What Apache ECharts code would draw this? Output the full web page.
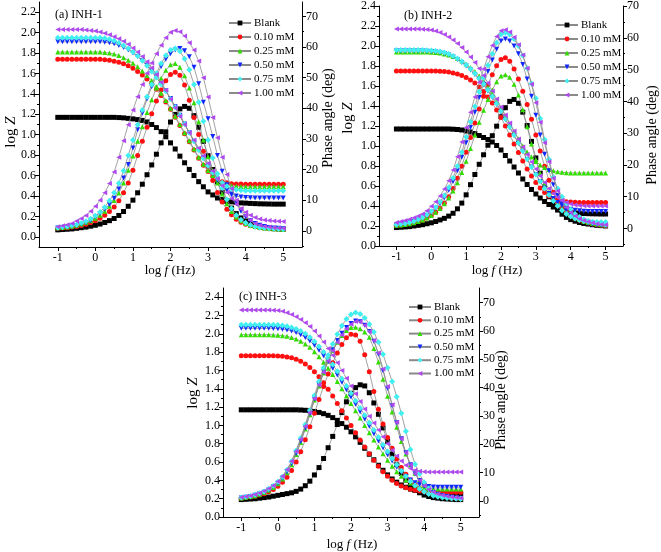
<!DOCTYPE html>
<html><head><meta charset="utf-8">
<script src="https://cdn.jsdelivr.net/npm/echarts@6/dist/echarts.min.js"></script>
<style>html,body{margin:0;padding:0;background:#fff}#c{width:661px;height:552px}</style>
</head><body><div id="c"></div>
<script>
const logF = [-1,-0.875,-0.75,-0.625,-0.5,-0.375,-0.25,-0.125,0,0.125,0.25,0.375,0.5,0.625,0.75,0.875,1,1.125,1.25,1.375,1.5,1.625,1.75,1.875,2,2.125,2.25,2.375,2.5,2.625,2.75,2.875,3,3.125,3.25,3.375,3.5,3.625,3.75,3.875,4,4.125,4.25,4.375,4.5,4.625,4.75,4.875,5];
const seriesNames = ['Blank','0.10 mM','0.25 mM','0.50 mM','0.75 mM','1.00 mM'];
const xTicks = [-1,0,1,2,3,4,5];

// Panel (a) INH-1
const a_Z_blank = [1.17,1.17,1.17,1.17,1.17,1.17,1.17,1.17,1.17,1.17,1.17,1.17,1.17,1.168,1.165,1.16,1.155,1.148,1.14,1.125,1.10,1.07,1.03,0.98,0.92,0.86,0.79,0.725,0.66,0.60,0.54,0.49,0.44,0.41,0.38,0.365,0.35,0.342,0.336,0.332,0.33,0.327,0.325,0.323,0.322,0.321,0.32,0.32,0.32];
const a_P_blank = [0.3,0.4,0.5,0.6,0.8,1.0,1.2,1.5,1.8,2.2,2.7,3.3,4.0,5.0,6.3,8.0,10.0,12.4,15.2,18.3,21.5,25.0,28.7,32.3,35.5,38.0,39.8,40.6,40.0,37.6,33.8,29.2,24.5,20.0,16.0,12.6,9.7,7.4,5.6,4.2,3.2,2.4,1.8,1.4,1.1,0.9,0.7,0.6,0.5];
const a_Z_010 = [1.74,1.74,1.74,1.74,1.74,1.74,1.74,1.74,1.74,1.74,1.735,1.73,1.72,1.71,1.695,1.675,1.65,1.62,1.585,1.545,1.50,1.445,1.385,1.32,1.25,1.17,1.09,1.01,0.93,0.85,0.77,0.70,0.64,0.59,0.56,0.54,0.53,0.52,0.518,0.516,0.515,0.515,0.515,0.515,0.515,0.515,0.515,0.515,0.515];
const a_P_010 = [0.8,0.9,1.0,1.2,1.4,1.7,2.1,2.6,3.3,4.1,5.1,6.3,7.8,9.8,12.4,15.6,19.8,24.6,29.2,33.8,38.2,42.4,46.0,49.0,51.0,51.8,50.8,47.6,42.6,37.0,31.4,26.0,21.0,16.4,12.5,9.4,7.0,5.2,3.8,2.8,2.1,1.6,1.3,1.0,0.8,0.7,0.6,0.5,0.5];
const a_Z_025 = [1.81,1.81,1.81,1.81,1.81,1.81,1.81,1.81,1.81,1.81,1.805,1.80,1.79,1.775,1.755,1.73,1.70,1.665,1.625,1.58,1.53,1.47,1.405,1.335,1.26,1.18,1.10,1.02,0.94,0.86,0.78,0.71,0.65,0.60,0.56,0.53,0.51,0.50,0.495,0.492,0.49,0.49,0.49,0.49,0.49,0.49,0.49,0.49,0.49];
const a_P_025 = [1.0,1.1,1.3,1.5,1.8,2.2,2.7,3.3,4.1,5.1,6.4,8.0,9.9,12.3,15.6,19.8,24.4,29.2,34.0,38.6,42.8,46.6,49.8,52.4,54.2,54.6,53.4,50.6,46.6,41.8,35.6,29.6,24.2,19.6,15.6,12.0,8.8,6.3,4.5,3.3,2.4,1.8,1.4,1.1,0.9,0.8,0.7,0.6,0.5];
const a_Z_050 = [1.91,1.91,1.91,1.91,1.91,1.91,1.91,1.91,1.91,1.91,1.905,1.90,1.89,1.875,1.855,1.83,1.80,1.765,1.725,1.68,1.625,1.565,1.50,1.43,1.355,1.275,1.19,1.105,1.02,0.935,0.85,0.77,0.69,0.62,0.555,0.50,0.455,0.42,0.40,0.39,0.385,0.382,0.38,0.38,0.38,0.38,0.38,0.38,0.38];
const a_P_050 = [0.9,1.0,1.2,1.4,1.7,2.1,2.6,3.3,4.5,5.6,7.0,8.6,10.6,13.6,17.2,21.6,27.0,33.0,38.4,43.0,47.0,50.6,53.6,56.0,57.8,59.0,59.5,58.8,56.8,53.4,48.0,42.0,36.6,30.8,24.6,19.4,15.0,11.8,8.8,6.4,4.6,3.3,2.4,1.8,1.4,1.1,0.9,0.8,0.7];
const a_Z_075 = [1.95,1.95,1.95,1.95,1.95,1.95,1.95,1.95,1.95,1.95,1.945,1.935,1.92,1.90,1.875,1.845,1.81,1.77,1.725,1.675,1.62,1.56,1.495,1.425,1.35,1.27,1.19,1.105,1.02,0.935,0.85,0.77,0.695,0.63,0.575,0.53,0.495,0.47,0.46,0.455,0.452,0.45,0.45,0.45,0.45,0.45,0.45,0.45,0.45];
const a_P_075 = [1.0,1.2,1.4,1.7,2.0,2.5,3.1,3.9,4.9,6.1,7.7,9.8,12.4,15.5,19.6,24.6,29.6,34.6,39.4,43.8,47.8,51.4,54.6,57.2,59.0,59.5,58.6,56.2,52.6,47.8,42.0,35.8,29.6,23.8,18.6,14.0,10.2,7.3,5.1,3.6,2.6,1.9,1.4,1.1,0.9,0.8,0.7,0.6,0.5];
const a_Z_100 = [2.03,2.03,2.03,2.03,2.03,2.03,2.025,2.02,2.015,2.005,1.995,1.98,1.96,1.94,1.915,1.885,1.85,1.81,1.765,1.715,1.655,1.59,1.515,1.435,1.35,1.265,1.18,1.10,1.02,0.945,0.87,0.795,0.72,0.645,0.57,0.50,0.435,0.375,0.32,0.275,0.24,0.21,0.19,0.175,0.165,0.16,0.155,0.152,0.15];
const a_P_100 = [1.3,1.6,2.0,2.4,3.2,4.0,5.0,6.4,8.0,10.0,12.4,15.4,19.2,24.0,29.4,34.6,39.4,43.8,47.8,51.4,54.8,57.8,60.6,63.0,64.8,65.4,65.0,63.6,61.4,59.0,55.4,50.0,43.7,37.0,30.4,24.0,18.4,13.8,10.0,7.2,5.0,3.4,2.4,1.8,1.4,1.2,1.0,0.9,0.8];

// Panel (b) INH-2
const b_Z_blank = [1.17,1.17,1.17,1.17,1.17,1.17,1.17,1.17,1.17,1.17,1.17,1.17,1.17,1.168,1.165,1.16,1.15,1.14,1.125,1.105,1.085,1.065,1.04,1.005,0.96,0.905,0.85,0.79,0.73,0.67,0.615,0.565,0.52,0.48,0.445,0.415,0.39,0.37,0.355,0.345,0.337,0.332,0.328,0.325,0.323,0.322,0.321,0.32,0.32];
const b_P_blank = [0.3,0.4,0.5,0.6,0.8,1.0,1.2,1.5,1.8,2.2,2.7,3.2,3.9,4.8,6.2,8.0,10.6,13.8,17.0,20.2,23.2,26.2,29.2,32.2,35.2,38.0,40.0,40.6,39.4,36.6,32.4,27.4,22.2,17.4,13.2,10.0,7.6,5.8,4.5,3.5,2.8,2.3,1.9,1.6,1.4,1.2,1.0,0.9,0.8];
const b_Z_010 = [1.75,1.75,1.75,1.75,1.75,1.75,1.75,1.75,1.75,1.75,1.748,1.745,1.74,1.73,1.72,1.705,1.685,1.66,1.63,1.59,1.545,1.49,1.43,1.36,1.285,1.20,1.11,1.02,0.935,0.85,0.77,0.70,0.635,0.58,0.535,0.50,0.475,0.46,0.45,0.443,0.44,0.438,0.436,0.435,0.435,0.435,0.435,0.435,0.435];
const b_P_010 = [1.0,1.1,1.3,1.5,1.8,2.2,2.7,3.3,4.1,5.1,6.4,8.0,10.0,12.6,15.8,19.6,24.0,28.6,33.2,37.6,41.6,45.2,48.4,51.2,53.2,53.7,52.6,50.2,47.0,43.2,39.0,34.4,29.4,24.4,19.6,15.2,11.4,8.6,6.6,5.2,4.0,3.2,2.6,2.1,1.7,1.4,1.2,1.0,0.9];
const b_Z_025 = [1.94,1.94,1.94,1.94,1.94,1.94,1.94,1.94,1.938,1.935,1.93,1.92,1.91,1.895,1.875,1.85,1.82,1.785,1.745,1.70,1.645,1.585,1.52,1.45,1.375,1.30,1.22,1.145,1.07,1.00,0.94,0.89,0.845,0.81,0.785,0.765,0.752,0.743,0.737,0.733,0.731,0.73,0.73,0.73,0.73,0.73,0.73,0.73,0.73];
const b_P_025 = [1.0,1.1,1.3,1.5,1.8,2.2,2.7,3.3,4.1,5.1,6.3,7.8,9.6,11.8,14.4,17.6,21.2,25.2,29.4,33.4,37.2,40.6,43.6,46.2,48.0,48.4,47.6,45.4,42.0,37.4,32.0,26.6,21.6,17.4,14.0,11.4,9.4,7.8,6.4,5.2,4.2,3.4,2.8,2.3,1.9,1.6,1.4,1.2,1.1];
const b_Z_050 = [1.95,1.95,1.95,1.95,1.95,1.95,1.95,1.948,1.945,1.94,1.935,1.925,1.91,1.89,1.865,1.835,1.80,1.76,1.715,1.665,1.61,1.55,1.485,1.415,1.34,1.265,1.185,1.105,1.025,0.945,0.865,0.79,0.715,0.645,0.58,0.525,0.475,0.435,0.405,0.383,0.368,0.358,0.352,0.348,0.345,0.345,0.345,0.345,0.345];
const b_P_050 = [1.1,1.3,1.5,1.8,2.2,2.7,3.3,4.1,5.1,6.3,7.8,9.7,12.0,14.8,18.2,22.4,27.0,31.8,36.6,41.2,45.4,49.4,53.0,56.4,59.0,59.6,59.0,57.4,55.0,51.6,47.0,41.6,35.6,29.4,23.4,18.2,13.8,10.4,7.8,5.8,4.4,3.4,2.6,2.1,1.7,1.4,1.2,1.0,0.9];
const b_Z_075 = [1.96,1.96,1.96,1.96,1.96,1.96,1.96,1.958,1.955,1.95,1.944,1.935,1.92,1.90,1.875,1.845,1.81,1.77,1.725,1.675,1.62,1.56,1.495,1.425,1.35,1.27,1.19,1.11,1.03,0.95,0.87,0.79,0.715,0.645,0.575,0.51,0.45,0.40,0.355,0.32,0.295,0.275,0.26,0.25,0.245,0.242,0.24,0.24,0.24];
const b_P_075 = [1.2,1.4,1.6,1.9,2.3,2.8,3.5,4.3,5.4,6.7,8.4,10.4,12.9,15.9,19.6,24.0,28.8,33.6,38.4,43.0,47.4,51.4,55.0,58.4,61.0,61.6,61.0,59.6,57.4,54.4,50.4,45.6,41.0,34.6,28.0,21.8,16.2,12.6,10.0,7.8,6.0,4.6,3.6,2.9,2.4,2.0,1.7,1.5,1.3];
const b_Z_100 = [2.17,2.17,2.17,2.17,2.17,2.17,2.168,2.165,2.16,2.15,2.135,2.115,2.09,2.06,2.025,1.985,1.94,1.89,1.835,1.775,1.705,1.63,1.55,1.47,1.39,1.31,1.23,1.15,1.07,0.99,0.915,0.84,0.77,0.70,0.635,0.575,0.525,0.485,0.455,0.435,0.42,0.41,0.405,0.402,0.40,0.40,0.40,0.40,0.40];
const b_P_100 = [1.9,2.2,2.5,2.9,3.4,3.9,4.6,5.6,7.0,8.4,10.2,12.4,15.0,18.4,22.6,27.2,31.8,36.6,41.4,46.0,50.2,54.0,57.6,60.4,62.2,62.5,61.8,60.2,57.8,54.6,50.4,45.4,39.6,33.4,27.0,21.0,15.8,11.8,8.8,6.6,5.0,3.9,3.1,2.5,2.1,1.8,1.5,1.3,1.2];

// Panel (c) INH-3
const c_Z_blank = [1.17,1.17,1.17,1.17,1.17,1.17,1.17,1.17,1.17,1.17,1.17,1.17,1.17,1.168,1.165,1.16,1.152,1.142,1.128,1.11,1.085,1.055,1.02,0.98,0.93,0.875,0.815,0.75,0.685,0.625,0.565,0.51,0.46,0.415,0.38,0.35,0.325,0.305,0.29,0.278,0.27,0.264,0.26,0.256,0.253,0.251,0.25,0.25,0.25];
const c_P_blank = [0.5,0.6,0.7,0.8,1.0,1.2,1.4,1.7,2.0,2.3,2.6,2.9,3.4,4.2,5.4,7.0,9.2,11.8,15.0,18.8,22.8,27.0,31.2,35.0,38.0,40.0,41.0,40.6,38.2,34.6,30.6,25.8,21.0,16.6,12.8,9.8,7.4,5.5,4.0,2.9,2.1,1.6,1.2,1.0,0.8,0.7,0.6,0.5,0.5];
const c_Z_010 = [1.76,1.76,1.76,1.76,1.76,1.76,1.76,1.76,1.758,1.754,1.748,1.738,1.722,1.70,1.67,1.632,1.585,1.53,1.465,1.395,1.32,1.24,1.16,1.08,1.00,0.92,0.84,0.765,0.69,0.62,0.555,0.495,0.445,0.40,0.365,0.338,0.318,0.303,0.292,0.284,0.279,0.276,0.274,0.272,0.271,0.27,0.27,0.27,0.27];
const c_P_010 = [1.0,1.2,1.4,1.7,2.1,2.6,3.3,4.1,5.2,6.6,8.4,10.8,13.8,17.4,21.6,26.2,31.0,35.8,40.4,44.8,48.8,52.2,55.2,57.6,58.8,58.6,56.4,51.6,45.6,38.6,32.4,27.2,22.4,18.6,14.8,11.8,9.4,7.4,5.8,4.5,3.5,2.8,2.2,1.8,1.5,1.3,1.1,1.0,0.9];
const c_Z_025 = [1.99,1.99,1.99,1.99,1.99,1.99,1.99,1.988,1.985,1.98,1.972,1.96,1.943,1.92,1.89,1.852,1.805,1.75,1.69,1.625,1.555,1.48,1.40,1.32,1.24,1.16,1.08,1.00,0.92,0.84,0.765,0.69,0.62,0.555,0.495,0.445,0.405,0.372,0.348,0.33,0.318,0.312,0.308,0.306,0.305,0.305,0.305,0.305,0.305];
const c_P_025 = [1.1,1.3,1.6,1.9,2.4,3.0,3.8,4.8,6.1,7.8,10.0,12.8,16.4,20.6,25.4,30.4,35.6,40.6,45.2,49.4,53.0,56.0,58.4,60.2,61.2,61.3,60.8,59.6,57.8,53.8,49.0,43.0,37.0,31.4,26.0,21.0,16.6,12.8,9.8,7.5,5.6,4.2,3.2,2.5,2.0,1.6,1.4,1.2,1.0];
const c_Z_050 = [2.06,2.06,2.06,2.06,2.06,2.06,2.06,2.058,2.055,2.05,2.042,2.03,2.013,1.99,1.96,1.922,1.875,1.82,1.76,1.695,1.625,1.55,1.47,1.39,1.31,1.23,1.15,1.07,0.99,0.91,0.83,0.755,0.68,0.61,0.545,0.49,0.443,0.405,0.375,0.354,0.34,0.332,0.328,0.326,0.325,0.325,0.325,0.325,0.325];
const c_P_050 = [1.1,1.3,1.6,2.0,2.5,3.1,3.9,5.0,6.3,8.0,10.3,13.2,16.8,21.0,25.8,30.8,36.0,41.0,45.6,49.8,53.4,56.6,59.2,61.2,62.6,63.5,63.2,62.0,59.8,56.4,51.8,46.0,39.8,33.6,27.6,22.0,17.0,12.8,9.6,7.2,5.3,4.0,3.0,2.4,1.9,1.6,1.3,1.1,1.0];
const c_Z_075 = [2.10,2.10,2.10,2.10,2.10,2.10,2.10,2.098,2.095,2.09,2.082,2.07,2.052,2.03,2.00,1.962,1.915,1.86,1.80,1.735,1.665,1.59,1.51,1.43,1.35,1.27,1.19,1.11,1.03,0.95,0.87,0.79,0.715,0.64,0.57,0.505,0.445,0.39,0.345,0.305,0.275,0.25,0.232,0.22,0.212,0.207,0.204,0.202,0.20];
const c_P_075 = [1.2,1.5,1.8,2.2,2.7,3.4,4.3,5.4,6.8,8.6,11.0,14.0,17.8,22.2,27.0,32.0,37.2,42.2,47.0,51.4,55.4,58.8,61.8,64.2,65.8,66.5,66.0,64.6,62.4,59.6,56.0,51.8,47.0,42.2,36.8,31.0,24.6,18.2,13.0,9.6,6.6,4.4,2.8,2.0,1.5,1.2,1.0,0.9,0.8];
const c_Z_100 = [2.26,2.26,2.26,2.26,2.26,2.26,2.26,2.258,2.254,2.245,2.23,2.21,2.185,2.155,2.12,2.08,2.03,1.975,1.91,1.84,1.765,1.685,1.60,1.515,1.43,1.345,1.26,1.18,1.10,1.025,0.95,0.875,0.80,0.73,0.665,0.61,0.565,0.53,0.51,0.50,0.494,0.491,0.49,0.49,0.49,0.49,0.49,0.49,0.49];
const c_P_100 = [1.3,1.6,1.9,2.3,2.8,3.5,4.4,5.5,6.9,8.7,11.0,14.0,17.6,21.8,26.4,31.2,36.2,41.0,45.4,49.4,53.0,56.0,58.6,60.8,62.4,63.3,63.2,62.0,59.8,56.6,52.2,46.6,40.4,34.0,27.8,22.0,17.0,12.8,9.6,7.2,5.4,4.1,3.2,2.5,2.0,1.7,1.4,1.2,1.1];

const colors = ['#000000','#ff1010','#33dd00','#1028ff','#40f0f0','#b048f0'];
const symbols = ['rect','circle','triangle','triangle','diamond','triangle'];
const rotates = [0,0,0,180,0,90];
const FONT = 'Liberation Serif';

const panels = [
  {Z:[a_Z_blank,a_Z_010,a_Z_025,a_Z_050,a_Z_075,a_Z_100], P:[a_P_blank,a_P_010,a_P_025,a_P_050,a_P_075,a_P_100],
   grid:{left:39,top:2,width:263,height:245}, yL:[-0.1,2.3], yR:[-5.3,74.7], lTicks:[0,0.2,0.4,0.6,0.8,1.0,1.2,1.4,1.6,1.8,2.0,2.2], lMinor:[0.1,0.3,0.5,0.7,0.9,1.1,1.3,1.5,1.7,1.9,2.1],
   legend:{left:228,top:17,gap:2}},
  {Z:[b_Z_blank,b_Z_010,b_Z_025,b_Z_050,b_Z_075,b_Z_100], P:[b_P_blank,b_P_010,b_P_025,b_P_050,b_P_075,b_P_100],
   grid:{left:379,top:6,width:244,height:240}, yL:[0,2.4], yR:[-5.5,70], lTicks:[0,0.2,0.4,0.6,0.8,1.0,1.2,1.4,1.6,1.8,2.0,2.2,2.4], lMinor:[0.1,0.3,0.5,0.7,0.9,1.1,1.3,1.5,1.7,1.9,2.1,2.3],
   legend:{left:555,top:19,gap:2}},
  {Z:[c_Z_blank,c_Z_010,c_Z_025,c_Z_050,c_Z_075,c_Z_100], P:[c_P_blank,c_P_010,c_P_025,c_P_050,c_P_075,c_P_100],
   grid:{left:223,top:288,width:256,height:229}, yL:[0,2.5], yR:[-5.64,75.15], lTicks:[0,0.2,0.4,0.6,0.8,1.0,1.2,1.4,1.6,1.8,2.0,2.2,2.4], lMinor:[0.1,0.3,0.5,0.7,0.9,1.1,1.3,1.5,1.7,1.9,2.1,2.3],
   legend:{left:408,top:301,gap:1.3}}
];
const rTicks = [0,10,20,30,40,50,60,70];
const rMinor = [-5,5,15,25,35,45,55,65];
const xMinor = [-0.5,0.5,1.5,2.5,3.5,4.5];

const lbl = {fontFamily:FONT,fontSize:12,color:'#000'};
const grids=[], xAxes=[], yAxes=[], series=[], legends=[];
panels.forEach((p,pi)=>{
  grids.push(p.grid);
  const base = {gridIndex:pi,type:'value',min:-1.5,max:5.5,splitLine:{show:false},position:'bottom'};
  xAxes.push(Object.assign({},base,{axisLine:{onZero:false,lineStyle:{color:'#000',width:1}},
    axisTick:{customValues:xTicks,length:4,lineStyle:{color:'#000'}},
    axisLabel:Object.assign({customValues:xTicks,margin:5},lbl)}));
  xAxes.push(Object.assign({},base,{axisLine:{show:false,onZero:false},axisTick:{customValues:xMinor,length:2,lineStyle:{color:'#000'}},axisLabel:{show:false}}));
  const yb = {gridIndex:pi,type:'value',splitLine:{show:false}};
  yAxes.push(Object.assign({},yb,{position:'left',min:p.yL[0],max:p.yL[1],axisLine:{show:true,onZero:false,lineStyle:{color:'#000'}},
    axisTick:{show:true,customValues:p.lTicks,length:4,lineStyle:{color:'#000'}},
    axisLabel:Object.assign({customValues:p.lTicks,margin:3,formatter:v=>v.toFixed(1)},lbl)}));
  yAxes.push(Object.assign({},yb,{position:'left',min:p.yL[0],max:p.yL[1],axisLine:{show:false,onZero:false},
    axisTick:{show:true,customValues:p.lMinor,length:2,lineStyle:{color:'#000'}},axisLabel:{show:false}}));
  yAxes.push(Object.assign({},yb,{position:'right',min:p.yR[0],max:p.yR[1],axisLine:{show:true,onZero:false,lineStyle:{color:'#000'}},
    axisTick:{show:true,customValues:rTicks,length:4,lineStyle:{color:'#000'}},
    axisLabel:Object.assign({customValues:rTicks,margin:4,formatter:v=>String(Math.round(v))},lbl)}));
  yAxes.push(Object.assign({},yb,{position:'right',min:p.yR[0],max:p.yR[1],axisLine:{show:false,onZero:false},
    axisTick:{show:true,customValues:rMinor,length:2,lineStyle:{color:'#000'}},axisLabel:{show:false}}));
  for(let k=0;k<6;k++){
    const common = {type:'line',name:seriesNames[k],xAxisIndex:2*pi,symbol:symbols[k],symbolRotate:rotates[k],
      symbolSize:k===4?6:5,showAllSymbol:true,animation:false,
      itemStyle:{color:colors[k]},lineStyle:{color:'#8a8a8a',width:0.8},z:2+k};
    series.push(Object.assign({},common,{yAxisIndex:4*pi,data:logF.map((x,i)=>[x,p.Z[k][i]])}));
    series.push(Object.assign({},common,{yAxisIndex:4*pi+2,data:logF.map((x,i)=>[x,p.P[k][i]])}));
  }
  legends.push({orient:'vertical',left:p.legend.left,top:p.legend.top,itemWidth:22,itemHeight:6,itemGap:p.legend.gap,
    data:seriesNames,selectedMode:false,textStyle:{fontFamily:FONT,fontSize:11,color:'#000',lineHeight:12,padding:[0,0,0,-2]},padding:0});
});

function vtext(x,y,rich,text,size){
  return {type:'text',x:x,y:y,rotation:Math.PI/2,style:{text:text,fontFamily:FONT,fontSize:size,fill:'#000',align:'center',verticalAlign:'middle',
    rich:rich}};
}
const richZ = {n:{fontFamily:FONT,fontSize:15,fill:'#000'},i:{fontFamily:FONT,fontSize:15,fontStyle:'italic',fill:'#000'}};
const richF = {n:{fontFamily:FONT,fontSize:13,fill:'#000'},i:{fontFamily:FONT,fontSize:13,fontStyle:'italic',fill:'#000'}};
function htext(x,y,text,size,rich,align){
  return {type:'text',x:x,y:y,style:{text:text,fontFamily:FONT,fontSize:size,fill:'#000',align:align||'center',verticalAlign:'middle',rich:rich}};
}
const graphics = [
  vtext(11,132,richZ,'{n|log }{i|Z}',15),
  vtext(328,118,{},'Phase angle (deg)',14),
  vtext(348,118,richZ,'{n|log }{i|Z}',15),
  vtext(652,135,{},'Phase angle (deg)',14),
  vtext(193,393,richZ,'{n|log }{i|Z}',15),
  vtext(501,400,{},'Phase angle (deg)',14),
  htext(170,271,'{n|log }{i|f}{n| (Hz)}',13,richF),
  htext(497,271,'{n|log }{i|f}{n| (Hz)}',13,richF),
  htext(352,545,'{n|log }{i|f}{n| (Hz)}',13,richF),
  htext(55,15,'(a) INH-1',12,{},'left'),
  htext(404,16,'(b) INH-2',12,{},'left'),
  htext(239,297,'(c) INH-3',12,{},'left')
];

const chart = echarts.init(document.getElementById('c'),null,{renderer:'canvas'});
chart.setOption({animation:false,backgroundColor:'#fff',grid:grids,xAxis:xAxes,yAxis:yAxes,series:series,legend:legends,graphic:graphics});
</script></body></html>
